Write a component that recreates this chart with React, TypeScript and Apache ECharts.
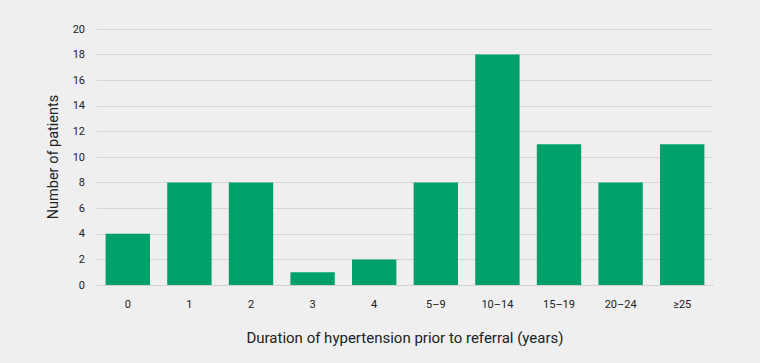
import React, { useEffect, useRef } from "react";
import * as echarts from "echarts";

const categories = ["0", "1", "2", "3", "4", "5–9", "10–14", "15–19", "20–24", "≥25"];
const patients = [4, 8, 8, 1, 2, 8, 18, 11, 8, 11];
const yTicks = { min: 0, max: 20, interval: 2 };

export default function App() {
  const ref = useRef<HTMLDivElement>(null);
  useEffect(() => {
    document.body.style.margin = "0";
    document.body.style.background = "#efefef";
    const chart = echarts.init(ref.current!, null, { renderer: "svg" });
    chart.setOption({
      animation: false,
      backgroundColor: "#efefef",
      textStyle: { fontFamily: "Roboto, 'Liberation Sans', sans-serif" },
      grid: { left: 97, right: 47, top: 29, bottom: 78 },
      xAxis: {
        type: "category",
        data: categories,
        axisLine: { lineStyle: { color: "#d2d2d2", width: 1 } },
        axisTick: { show: false },
        axisLabel: { color: "#222", fontSize: 11, margin: 14 },
        name: "Duration of hypertension prior to referral (years)",
        nameLocation: "middle",
        nameGap: 45,
        nameTextStyle: { color: "#222", fontSize: 15 },
      },
      yAxis: {
        type: "value",
        min: yTicks.min,
        max: yTicks.max,
        interval: yTicks.interval,
        axisLine: { show: false },
        axisTick: { show: false },
        axisLabel: { color: "#222", fontSize: 11, margin: 12 },
        splitLine: { lineStyle: { color: "#d6d6d6", width: 1 } },
        name: "Number of patients",
        nameLocation: "middle",
        nameGap: 36,
        nameTextStyle: { color: "#222", fontSize: 14.5 },
      },
      series: [
        {
          type: "bar",
          data: patients,
          barCategoryGap: "28%",
          itemStyle: { color: "#00a06c" },
        },
      ],
    });
    return () => chart.dispose();
  }, []);
  return <div ref={ref} style={{ width: 760, height: 363 }} />;
}
